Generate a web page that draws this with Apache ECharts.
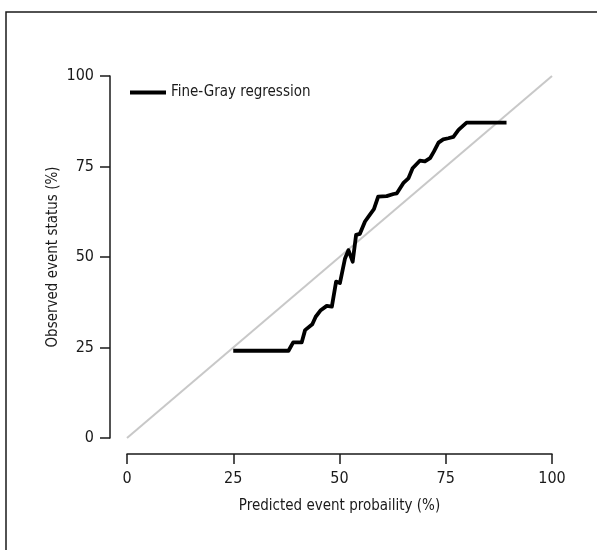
<!DOCTYPE html>
<html>
<head>
<meta charset="utf-8">
<script src="https://cdn.jsdelivr.net/npm/echarts@6/dist/echarts.min.js"></script>
<style>
  html, body { margin: 0; padding: 0; background: #fff; }
  #chart { width: 597px; height: 550px; }
</style>
</head>
<body>
<div id="chart"></div>
<script>
// calibration curve
var predicted = [25, 38, 39.1, 41.1, 41.9, 43.6, 44.4, 45.5, 47, 48.2, 49.2, 50.1, 51.3, 52.1, 53.1, 53.9, 54.8, 56, 57.2, 58.1, 59.1, 61.1, 62.7, 63.5, 65, 66.2, 67.2, 68.9, 70.1, 71.3, 72.2, 73.3, 74.4, 75.6, 76.8, 78, 79.9, 89.3];
var observed = [24.1, 24.1, 26.4, 26.4, 29.8, 31.4, 33.5, 35.2, 36.5, 36.3, 43.2, 42.8, 49.6, 51.9, 48.7, 56.1, 56.4, 59.8, 61.8, 63.2, 66.7, 66.8, 67.4, 67.6, 70.4, 71.7, 74.5, 76.6, 76.4, 77.3, 79.1, 81.6, 82.5, 82.8, 83.2, 85.1, 87.1, 87.1];
var diagX = [0, 100];
var diagY = [0, 100];
var ticks = [0, 25, 50, 75, 100];

var font = "'Liberation Sans Narrow', 'DejaVu Sans Condensed', sans-serif";
var ink = '#1a1a1a';

function pairs(xs, ys) {
    var out = [];
    for (var i = 0; i < xs.length; i++) out.push([xs[i], ys[i]]);
    return out;
}

var axisCommon = {
    type: 'value',
    min: ticks[0],
    max: ticks[ticks.length - 1],
    interval: 25,
    nameLocation: 'middle',
    nameTextStyle: { fontFamily: font, fontSize: 15, color: ink },
    axisLine: { show: true, onZero: false, lineStyle: { color: ink, width: 1.5 } },
    axisTick: { show: true, inside: false, length: 10, lineStyle: { color: ink, width: 1.5 } },
    axisLabel: { fontFamily: font, fontSize: 16, color: ink },
    splitLine: { show: false }
};

var chart = echarts.init(document.getElementById('chart'));
chart.setOption({
    backgroundColor: '#fff',
    animation: false,
    graphic: [{
        type: 'rect',
        shape: { x: 6, y: 12, width: 700, height: 700 },
        style: { fill: 'none', stroke: ink, lineWidth: 1.5 },
        silent: true
    }],
    legend: {
        left: 125, top: 80,
        itemWidth: 36, itemHeight: 4, itemGap: 10,
        textStyle: { fontFamily: font, fontSize: 15, color: ink },
        data: [{ name: 'Fine-Gray regression', icon: 'rect' }]
    },
    grid: { left: 127, right: 45, top: 76, bottom: 112 },
    xAxis: Object.assign({}, axisCommon, {
        name: 'Predicted event probaility (%)',
        nameGap: 45,
        offset: 16,
        axisLabel: Object.assign({}, axisCommon.axisLabel, { margin: 17 })
    }),
    yAxis: Object.assign({}, axisCommon, {
        name: 'Observed event status (%)',
        nameGap: 49,
        nameMoveOverlap: false,
        offset: 17,
        axisLabel: Object.assign({}, axisCommon.axisLabel, { margin: 16 })
    }),
    series: [
        {
            name: 'diagonal',
            type: 'line',
            data: pairs(diagX, diagY),
            symbol: 'none',
            lineStyle: { color: '#c8c8c8', width: 2 },
            z: 1
        },
        {
            name: 'Fine-Gray regression',
            type: 'line',
            data: pairs(predicted, observed),
            symbol: 'none',
            itemStyle: { color: '#000' },
            lineStyle: { color: '#000', width: 3.8, join: 'round' },
            z: 2
        }
    ]
});
</script>
</body>
</html>
